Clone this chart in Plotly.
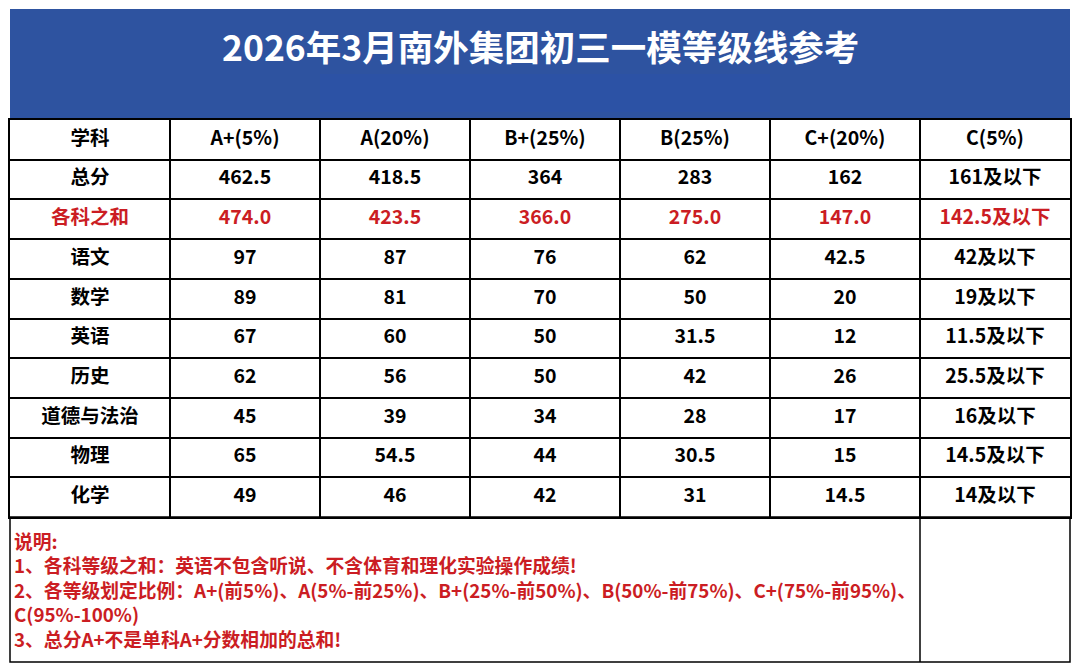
import plotly.graph_objects as go

# the page body keeps an 8px margin, so the figure is 16px smaller than the window
W, H = 1064, 656
OFF = 8

title = "2026年3月南外集团初三一模等级线参考"
header = ["学科", "A+(5%)", "A(20%)", "B+(25%)", "B(25%)", "C+(20%)", "C(5%)"]
subjects = ["总分", "各科之和", "语文", "数学", "英语", "历史", "道德与法治", "物理", "化学"]
a_plus = ["462.5", "474.0", "97", "89", "67", "62", "45", "65", "49"]
a = ["418.5", "423.5", "87", "81", "60", "56", "39", "54.5", "46"]
b_plus = ["364", "366.0", "76", "70", "50", "50", "34", "44", "42"]
b = ["283", "275.0", "62", "50", "31.5", "42", "28", "30.5", "31"]
c_plus = ["162", "147.0", "42.5", "20", "12", "26", "17", "15", "14.5"]
c = ["161及以下", "142.5及以下", "42及以下", "19及以下", "11.5及以下", "25.5及以下", "16及以下", "14.5及以下", "14及以下"]
notes = [
    "说明:",
    "1、各科等级之和：英语不包含听说、不含体育和理化实验操作成绩!",
    "2、各等级划定比例：A+(前5%)、A(5%-前25%)、B+(25%-前50%)、B(50%-前75%)、C+(75%-前95%)、",
    "C(95%-100%)",
    "3、总分A+不是单科A+分数相加的总和!",
]

RED = "#cb1d23"
BLUE = "#2e53a0"
FONT = "Noto Sans CJK SC"

# column widths in pixels: the subject column is a little wider
col_widths = [160, 150, 150, 150, 150, 150, 150]
edges = [0]
for w in col_widths:
    edges.append(edges[-1] + w)
centers = [(edges[k] + edges[k + 1]) / 2 for k in range(len(col_widths))]


def px(x):
    """page pixel -> paper x"""
    return (x - OFF) / W


def py(y):
    """page pixel -> paper y"""
    return 1 - (y - OFF) / H


columns = [subjects, a_plus, a, b_plus, b, c_plus, c]

# flatten the grid into one text trace, row 0 is the header
xs, ys, texts, colors = [], [], [], []
for j, col in enumerate(columns):
    cells = [header[j]] + col
    for i, val in enumerate(cells):
        xs.append(centers[j])
        ys.append(i + 0.5)
        texts.append("<b>%s</b>" % val)
        colors.append(RED if i > 0 and subjects[i - 1] == "各科之和" else "black")

fig = go.Figure()

fig.add_trace(
    go.Scatter(
        x=xs,
        y=ys,
        mode="text",
        text=texts,
        textposition="middle center",
        textfont=dict(family=FONT, size=19.5, color=colors),
        hoverinfo="skip",
    )
)

grid_axis = dict(
    showgrid=True,
    gridcolor="black",
    gridwidth=1.5,
    showticklabels=False,
    ticks="",
    zeroline=False,
    showline=True,
    mirror=True,
    linecolor="black",
    linewidth=1.5,
    fixedrange=True,
)

shapes = [
    # title banner
    dict(type="rect", xref="paper", yref="paper", x0=px(10), x1=px(1070), y0=py(119), y1=py(9),
         fillcolor=BLUE, line=dict(width=0), layer="below"),
    dict(type="rect", xref="paper", yref="paper", x0=px(320), x1=px(770), y0=py(112), y1=py(74),
         fillcolor="#2c52a5", line=dict(width=0), layer="below"),
    # notes box
    dict(type="rect", xref="paper", yref="paper", x0=px(10), x1=px(1070), y0=py(662), y1=py(517),
         fillcolor="rgba(0,0,0,0)", line=dict(color="black", width=1.5)),
    dict(type="line", xref="paper", yref="paper", x0=px(920), x1=px(920), y0=py(662), y1=py(517),
         line=dict(color="black", width=1.5)),
]

annotations = [
    dict(text="<b>%s</b>" % title, x=px(540), y=py(45), xref="paper", yref="paper",
         xanchor="center", yanchor="middle", showarrow=False,
         font=dict(family=FONT, size=35.5, color="white")),
    dict(text="<br>".join("<b>%s</b>" % s for s in notes), x=px(12), y=py(589.5),
         xref="paper", yref="paper", xanchor="left", yanchor="middle", align="left",
         showarrow=False, font=dict(family=FONT, size=18.8, color=RED)),
]

fig.update_layout(
    width=W,
    height=H,
    margin=dict(l=0, r=0, t=0, b=0),
    paper_bgcolor="white",
    plot_bgcolor="white",
    xaxis=dict(grid_axis, range=[0, edges[-1]], tickmode="array", tickvals=edges,
               domain=[px(10), px(1070)]),
    yaxis=dict(grid_axis, range=[len(subjects) + 1, 0], dtick=1, tick0=0,
               domain=[py(517), py(120)]),
    shapes=shapes,
    annotations=annotations,
    showlegend=False,
)

fig.write_html("out.html", config=dict(displayModeBar=False))
